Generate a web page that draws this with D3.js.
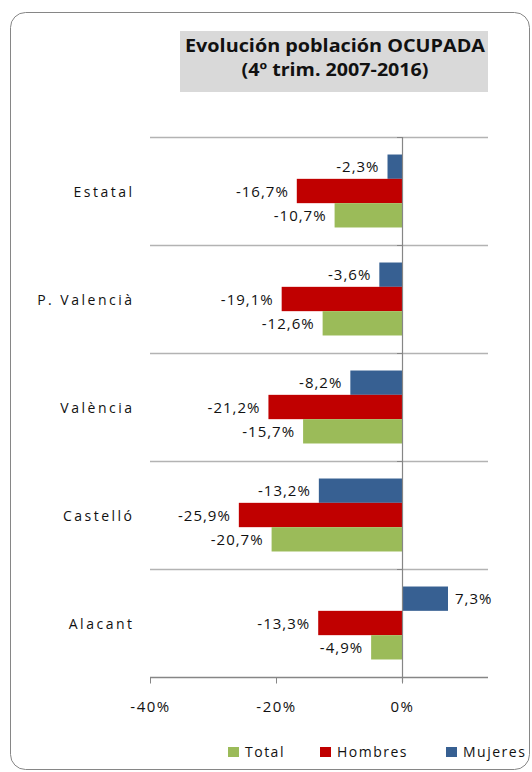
<!DOCTYPE html>
<html>
<head>
<meta charset="utf-8">
<script src="https://cdn.jsdelivr.net/npm/d3@7"></script>
<style>
	body { margin: 0; background: #fff; }
	text { font-family: "Open Sans", "DejaVu Sans", sans-serif; fill: #111; }
</style>
</head>
<body>
<script>
const regions = ["Estatal", "P. Valencià", "València", "Castelló", "Alacant"];
const series = ["Mujeres", "Hombres", "Total"];
const mujeres = [-2.3, -3.6, -8.2, -13.2, 7.3];
const hombres = [-16.7, -19.1, -21.2, -25.9, -13.3];
const total = [-10.7, -12.6, -15.7, -20.7, -4.9];
const xTicks = [-40, -20, 0];
const legendOrder = ["Total", "Hombres", "Mujeres"];
const titleLines = ["Evolución población OCUPADA", "(4º trim. 2007-2016)"];

const colors = { Total: "#9bbb59", Hombres: "#c00000", Mujeres: "#376092" };
const values = { Mujeres: mujeres, Hombres: hombres, Total: total };

const width = 532, height = 772;
const plot = { left: 150, right: 488, top: 137, bottom: 677 };

const svg = d3.select("body")
	.append("svg")
	.attr("width", width)
	.attr("height", height);

// frame
svg.append("rect")
	.attr("x", 10.5).attr("y", 12.5)
	.attr("width", 519).attr("height", 757)
	.attr("rx", 15)
	.attr("fill", "#fff")
	.attr("stroke", "#868686")
	.attr("stroke-width", 1);

// title
svg.append("rect")
	.attr("x", 180).attr("y", 31)
	.attr("width", 308).attr("height", 61)
	.attr("fill", "#d9d9d9");

svg.append("g")
	.selectAll("text")
	.data(titleLines)
	.enter()
	.append("text")
	.attr("x", 335)
	.attr("y", (d, i) => 52 + i * 23.5)
	.attr("text-anchor", "middle")
	.attr("textLength", (d, i) => (i == 0 ? 300 : 187))
	.attr("lengthAdjust", "spacingAndGlyphs")
	.style("font-weight", "bold")
	.style("font-size", "17px")
	.text((d) => d);

const x = d3.scaleLinear()
	.domain([-40, 13.65])
	.range([plot.left, plot.right]);

const y = d3.scaleBand()
	.domain(regions)
	.range([plot.top, plot.bottom]);

const yInner = d3.scaleBand()
	.domain(series)
	.range([0, y.bandwidth()])
	.paddingOuter(0.72)
	.paddingInner(0);

// horizontal gridlines (category boundaries)
const bounds = regions.map((r) => y(r));
svg.append("g")
	.selectAll("line")
	.data(bounds)
	.enter()
	.append("line")
	.attr("x1", plot.left).attr("x2", plot.right)
	.attr("y1", (d) => d + 0.5).attr("y2", (d) => d + 0.5)
	.attr("stroke", "#b3b3b3")
	.attr("stroke-width", 1.5);

// bars
const rows = [];
regions.forEach((r, i) => {
	series.forEach((s) => rows.push({ region: r, series: s, value: values[s][i] }));
});

svg.append("g")
	.selectAll("rect")
	.data(rows)
	.enter()
	.append("rect")
	.attr("x", (d) => x(Math.min(0, d.value)))
	.attr("y", (d) => y(d.region) + yInner(d.series))
	.attr("width", (d) => Math.abs(x(d.value) - x(0)))
	.attr("height", yInner.bandwidth())
	.attr("fill", (d) => colors[d.series]);

// data labels
svg.append("g")
	.selectAll("text")
	.data(rows)
	.enter()
	.append("text")
	.attr("x", (d) => d.value < 0 ? x(d.value) - 8 : x(d.value) + 7)
	.attr("y", (d) => y(d.region) + yInner(d.series) + yInner.bandwidth() / 2)
	.attr("dy", "0.38em")
	.attr("text-anchor", (d) => d.value < 0 ? "end" : "start")
	.style("font-size", "15px")
	.style("letter-spacing", "1px")
	.text((d) => d3.format(".1f")(d.value).replace(".", ",").replace("−", "-") + "%");

// zero axis line
svg.append("line")
	.attr("x1", x(0) + 0.5).attr("x2", x(0) + 0.5)
	.attr("y1", plot.top).attr("y2", plot.bottom + 5)
	.attr("stroke", "#868686")
	.attr("stroke-width", 1.2);

// small ticks on the vertical axis
svg.append("g")
	.selectAll("line")
	.data(bounds.concat([plot.bottom]))
	.enter()
	.append("line")
	.attr("x1", x(0) - 5).attr("x2", x(0) + 0.5)
	.attr("y1", (d) => d + 0.5).attr("y2", (d) => d + 0.5)
	.attr("stroke", "#868686");

// bottom axis
const xAxis = svg.append("g")
	.attr("transform", `translate(0,${plot.bottom + 0.5})`)
	.call(
		d3.axisBottom(x)
			.tickValues(xTicks)
			.tickSize(6)
			.tickSizeOuter(0)
			.tickFormat((d) => d3.format("d")(d).replace("−", "-") + "%")
	);
xAxis.select(".domain").attr("stroke", "#868686").attr("stroke-width", 1.5)
	.attr("d", `M${plot.left},0H${plot.right}`);
xAxis.selectAll(".tick line").attr("stroke", "#868686").attr("y1", 0);
xAxis.selectAll(".tick text")
	.attr("y", 34)
	.attr("dy", null)
	.style("font-size", "15px")
	.style("letter-spacing", "1.5px")
	.style("font-family", "'Open Sans', 'DejaVu Sans', sans-serif")
	.attr("fill", "#111");

// category labels
svg.append("g")
	.selectAll("text")
	.data(regions)
	.enter()
	.append("text")
	.attr("x", 134.5)
	.attr("y", (d) => y(d) + y.bandwidth() / 2)
	.attr("dy", "0.4em")
	.attr("text-anchor", "end")
	.style("font-size", "14px")
	.style("letter-spacing", "2.5px")
	.text((d) => d);

// legend
const legendX = { Total: 228, Hombres: 320, Mujeres: 446 };
const legend = svg.append("g")
	.selectAll("g")
	.data(legendOrder)
	.enter()
	.append("g")
	.attr("transform", (d) => `translate(${legendX[d]},747)`);

legend.append("rect")
	.attr("width", 11).attr("height", 10)
	.attr("fill", (d) => colors[d]);

legend.append("text")
	.attr("x", 17).attr("y", 10)
	.style("font-size", "14px")
	.style("letter-spacing", "1.5px")
	.text((d) => d);
</script>
</body>
</html>
